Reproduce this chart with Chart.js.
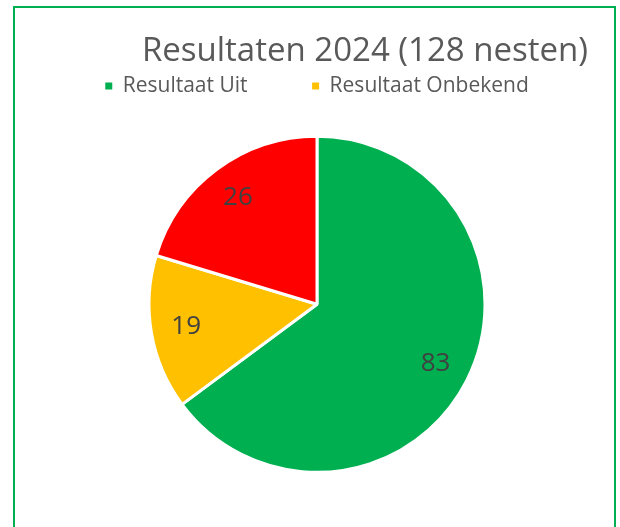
<!DOCTYPE html>
<html>
<head>
<meta charset="utf-8">
<script src="https://cdn.jsdelivr.net/npm/chart.js@4"></script>
<style>
    html, body { margin: 0; padding: 0; background: #fff; }
    .wrap { position: relative; width: 620px; height: 527px; overflow: hidden; }
    .frame { position: absolute; left: 13px; top: 6px; width: 603px; height: 600px; border: 2px solid #00B050; box-sizing: border-box; }
    canvas { position: absolute; left: 0; top: 0; }
</style>
</head>
<body>
<div class="wrap">
    <div class="frame"></div>
    <canvas id="pie" width="620" height="527"></canvas>
</div>
<script>
'use strict'

const titel = 'Resultaten 2024 (128 nesten)'
const categorieen = ['Resultaat Uit', 'Resultaat Onbekend', 'Resultaat Aan']
const nesten = [83, 19, 26]
const kleuren = ['#00B050', '#FFC000', '#FF0000']

// waarden in de taartpunten
const waardeLabels = {
    id: 'waardeLabels',
    afterDatasetsDraw(chart) {
        const ctx = chart.ctx
        const meta = chart.getDatasetMeta(0)
        ctx.save()
        ctx.font = '26px "Open Sans"'
        ctx.fillStyle = '#404040'
        ctx.textAlign = 'center'
        ctx.textBaseline = 'middle'
        meta.data.forEach((arc, i) => {
            const mid = (arc.startAngle + arc.endAngle) / 2
            const r = arc.outerRadius * 0.79
            ctx.fillText(String(nesten[i]), arc.x + Math.cos(mid) * r, arc.y + Math.sin(mid) * r)
        })
        ctx.restore()
    }
}

document.addEventListener('DOMContentLoaded', () => {
    Diagram()
})

function Diagram() {
    const ctx = document.getElementById('pie').getContext('2d')

    new Chart(ctx, {
        type: 'pie',
        data: {
            labels: categorieen,
            datasets: [{
                data: nesten,
                backgroundColor: kleuren,
                borderColor: '#ffffff',
                borderWidth: 3,
                radius: 168
            }]
        },
        options: {
            responsive: false,
            animation: false,
            layout: { padding: { left: 46, right: 32, top: 0, bottom: 25 } },
            plugins: {
                title: {
                    display: true,
                    text: titel,
                    align: 'end',
                    color: '#595959',
                    font: { family: 'Open Sans', size: 33, weight: 'normal' },
                    padding: { top: 32, bottom: -6 }
                },
                legend: {
                    position: 'top',
                    labels: {
                        color: '#595959',
                        font: { family: 'Open Sans', size: 21 },
                        boxWidth: 7,
                        boxHeight: 7,
                        padding: 10,
                        generateLabels(chart) {
                            const items = Chart.overrides.pie.plugins.legend.labels.generateLabels(chart)
                            // alleen de eerste rij van de legenda is zichtbaar
                            return items.filter(it => it.index < 2).map(it => {
                                it.lineWidth = 0
                                it.strokeStyle = 'transparent'
                                if (it.index === 0) it.text = it.text + ' '.repeat(10)
                                return it
                            })
                        }
                    }
                },
                tooltip: { enabled: false }
            }
        },
        plugins: [waardeLabels]
    })
}
</script>
</body>
</html>
